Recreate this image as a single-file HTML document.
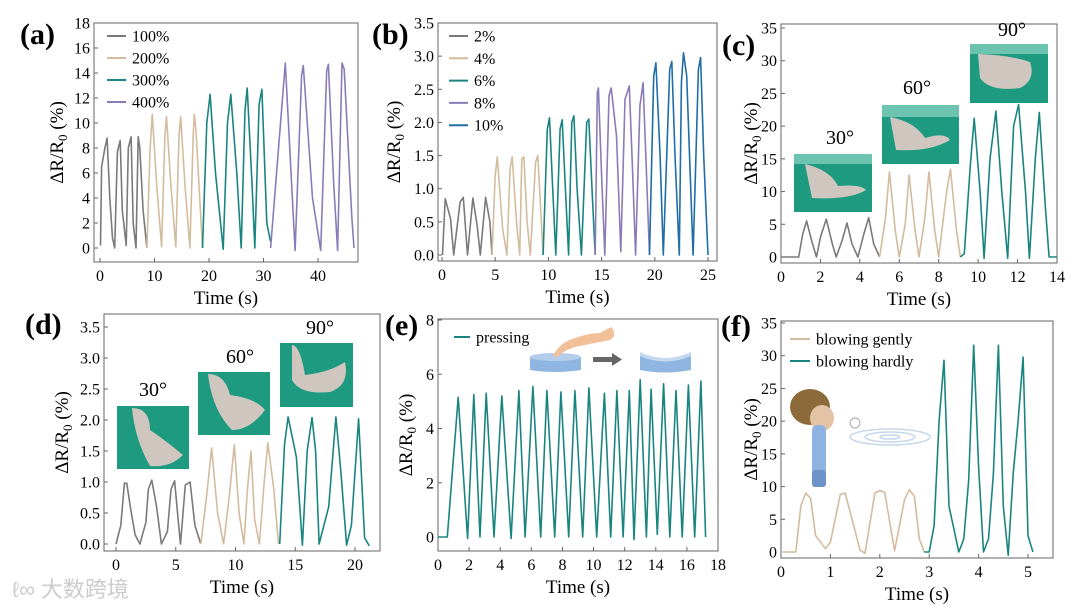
<!DOCTYPE html>
<html><head><meta charset="utf-8">
<style>
html,body{margin:0;padding:0;background:#fff;}
svg{display:block;font-family:"Liberation Serif",serif;}
</style></head>
<body>
<svg id="fig" width="1080" height="609" viewBox="0 0 1080 609" xmlns="http://www.w3.org/2000/svg">
<g id="decor">
  <g><rect x="794" y="154" width="78" height="58" fill="#1e9a80"/><rect x="794" y="154" width="78" height="10" fill="#6cc4b0"/><path d="M805 164 Q830 170 838 186 Q860 184 866 190 Q850 200 812 198 Z" fill="#cfc6bf"/></g>
  <g><rect x="882" y="105" width="77" height="59" fill="#1e9a80"/><rect x="882" y="105" width="77" height="12" fill="#6cc4b0"/><path d="M890 117 Q915 122 925 138 Q945 132 950 140 Q930 152 896 150 Z" fill="#cfc6bf"/></g>
  <g><rect x="970" y="44" width="78" height="59" fill="#1e9a80"/><rect x="970" y="44" width="78" height="10" fill="#6cc4b0"/><path d="M978 54 Q1010 55 1030 62 Q1036 80 1020 88 Q990 92 980 78 Z" fill="#cfc6bf"/></g>
  <text x="840" y="144" font-size="20" text-anchor="middle">30°</text>
  <text x="917" y="94" font-size="20" text-anchor="middle">60°</text>
  <text x="1012" y="36" font-size="20" text-anchor="middle">90°</text>
  <g><rect x="117" y="406" width="72" height="63" fill="#1e9a80"/><path d="M132 408 Q150 408 150 430 Q165 440 183 455 Q170 468 150 466 Q135 440 132 408Z" fill="#cfc6bf"/></g>
  <g><rect x="198" y="372" width="72" height="63" fill="#1e9a80"/><path d="M208 374 Q225 374 230 395 Q255 398 265 410 Q250 430 232 430 Q212 410 208 374Z" fill="#cfc6bf"/></g>
  <g><rect x="280" y="343" width="73" height="64" fill="#1e9a80"/><path d="M292 345 Q300 345 305 375 Q330 372 345 362 Q350 385 330 392 Q300 395 292 380Z" fill="#cfc6bf"/></g>
  <text x="153" y="396" font-size="20" text-anchor="middle">30°</text>
  <text x="240" y="363" font-size="20" text-anchor="middle">60°</text>
  <text x="320" y="334" font-size="20" text-anchor="middle">90°</text>
  <g>
    <path d="M530 357 L581 357 L581 370 Q555 374 530 370 Z" fill="#8fb6e0"/>
    <ellipse cx="555.5" cy="357" rx="25.5" ry="4" fill="#b3cdea"/>
    <path d="M553 356 Q560 342 575 338 Q590 333 600 333 L611 327 Q618 335 610 340 L585 345 Q565 348 558 357 Z" fill="#f1bf98"/>
    <rect x="593" y="357" width="20" height="5" fill="#666"/><path d="M612 353 L622 359.5 L612 366Z" fill="#666"/>
    <path d="M640 355 Q665 366 691 355 L691 370 Q665 375 640 370 Z" fill="#8fb6e0"/>
    <path d="M640 352 Q665 364 691 352 L691 356 Q665 367 640 356 Z" fill="#c5d9ef"/>
  </g>
  <g>
    <ellipse cx="810" cy="407" rx="20" ry="18" fill="#8c6a3a"/>
    <ellipse cx="822" cy="418" rx="12" ry="13" fill="#e3c3a6"/>
    <rect x="812" y="425" width="14" height="57" rx="5" fill="#8fb3e0"/>
    <rect x="812" y="470" width="14" height="17" rx="3" fill="#6d93c8"/>
    <circle cx="855" cy="423" r="5" fill="none" stroke="#aaa" stroke-width="1"/>
    <ellipse cx="890" cy="437" rx="40" ry="8" fill="none" stroke="#c7d8ea" stroke-width="1.5"/>
    <ellipse cx="890" cy="437" rx="25" ry="5" fill="none" stroke="#c7d8ea" stroke-width="1.5"/>
    <ellipse cx="890" cy="437" rx="10" ry="2" fill="none" stroke="#c7d8ea" stroke-width="1.5"/>
  </g>
  <text x="12" y="597" font-size="22" fill="#ccc" font-family="'Liberation Sans','Noto Sans CJK SC',sans-serif">ℓ∞ 大数跨境</text>
</g>
</svg>
<script>
// ---------- data ----------
const aT100=[0.1,0.3,0.9,1.3,1.8,2.3,2.7,3.2,3.7,4.1,4.8,5.2,5.7,6.1,6.6,7.0,7.3,7.9,8.6];
const aV100=[0.2,6.5,8,8.8,4,0.8,0,7.7,8.6,3,0.2,8,8.9,2,0,8.9,8,3,0];
const aT200=[8.6,9.2,9.6,10.4,11.3,11.9,12.2,13.0,13.9,14.5,14.8,15.6,16.5,17.1,17.3,17.6,18.8];
const aV200=[0,8,10.7,5,0.1,9,10.5,5,0.1,9,10.5,5,0,9,10.7,9.5,0];
const aT300=[18.8,19.6,20.2,21.2,22.6,23.4,24.0,25.1,25.9,26.6,27.0,27.9,28.4,29.2,29.7,30.6,31.3];
const aV300=[0,10,12.3,6,-0.1,10,12.3,6,0,11,12.8,5,0,11.5,12.7,2,0.5];
const aT400=[31.3,34.0,35.8,37.0,37.3,39.0,40.5,41.6,41.9,42.9,43.6,44.4,44.8,46.2,46.6];
const aV400=[0,14.8,-0.2,13.8,14.6,4,-0.2,14.2,14.7,5,-0.2,14.8,14.3,2.5,0];

const bT2=[0.05,0.3,0.8,1.1,1.7,2.0,2.4,2.9,3.3,3.6,4.1,4.5,4.7];
const bV2=[0,0.85,0.55,0,0.8,0.87,0,0.86,0.45,0,0.87,0.5,0];
const bT4=[4.7,5.0,5.2,5.7,6.1,6.4,6.6,7.0,7.3,7.5,7.7,8.0,8.3,8.8,9.0,9.3,9.5];
const bV4=[0,1.2,1.48,0.4,0,1.3,1.48,0.5,0,1.45,1.48,0.5,0,1.4,1.5,0.6,0];
const bT6=[9.5,9.9,10.1,10.4,10.7,11.1,11.3,11.6,11.9,12.2,12.4,12.7,13.1,13.6,13.8,14.1,14.4];
const bV6=[0,1.9,2.07,1.0,0,1.9,2.04,1.0,0,2.0,2.1,1.0,0,2.0,2.05,1.0,0];
const bT8=[14.4,14.6,14.7,15.0,15.3,15.7,15.9,16.4,16.8,17.2,17.6,17.9,18.2,18.6,18.9,19.2,19.5];
const bV8=[0,2.45,2.52,1.2,0,2.4,2.52,1.8,0.05,2.35,2.55,1.3,0,2.25,2.6,1.3,0];
const bT10=[19.5,19.9,20.1,20.5,20.8,21.4,21.6,21.9,22.3,22.5,22.7,23.0,23.6,24.1,24.3,24.6,25.0];
const bV10=[0,2.7,2.9,1.5,0,2.8,2.92,1.5,0,2.6,3.05,2.7,0,2.8,2.98,1.5,0];

const cT30=[0,0.9,1.1,1.3,1.6,1.8,2.0,2.3,2.6,2.8,3.1,3.35,3.6,3.9,4.2,4.45,4.7,5.0];
const cV30=[0,0,3.5,5.5,2,0,3,5.8,2,0,2.5,5.2,2,0,3.5,6.0,2,0];
const cT60=[5.0,5.3,5.5,5.8,6.0,6.3,6.5,6.8,7.0,7.3,7.5,7.8,8.0,8.4,8.6,8.9,9.1];
const cV60=[0,6,13,4,0,5,12.5,4,0,6,13,4,0,10,13.4,4,0];
const cT90=[9.1,9.3,9.6,9.8,10.1,10.3,10.6,10.9,11.2,11.5,11.8,12.05,12.4,12.6,12.9,13.1,13.4,13.6,14.0];
const cV90=[0,0.5,14,21.2,10,-0.2,15,22.3,10,-0.2,20,23.3,10,-0.2,15,22.1,8,0,0];

const dT30=[0,0.4,0.7,0.9,1.2,1.6,2.0,2.5,2.7,3.0,3.4,3.8,4.3,4.6,4.9,5.2,5.4,5.8,6.2,6.6,7.1];
const dV30=[0,0.3,0.98,0.98,0.6,0.15,0,0.35,0.88,1.03,0.6,0,0.2,0.88,1.02,0.4,0,0.95,1.0,0.3,0];
const dT60=[7.1,7.6,8.0,8.5,9.0,9.5,9.9,10.3,10.7,11.0,11.3,11.6,12.0,12.4,12.7,13.2,13.6];
const dV60=[0,0.8,1.55,0.5,0,0.8,1.6,0.5,0,0.9,1.5,0.4,0,1.0,1.63,0.9,0];
const dT90=[13.7,14.1,14.4,15.1,15.6,16.0,16.4,16.7,17.0,17.8,18.4,18.8,19.3,19.7,20.3,20.8,21.2];
const dV90=[0,1.6,2.05,1.4,-0.02,1.5,2.04,1.5,0,0.6,2.05,1.2,-0.02,0.3,2.02,0.1,-0.03];

const eValleyT=[0.6,1.9,2.7,3.6,4.7,5.6,6.6,7.5,8.4,9.3,10.2,11.1,11.9,12.6,13.4,14.1,14.9,15.7,16.5,17.2];
const eValleyV=[0,-0.05,0,0,-0.05,0,0,0,0,0,0,0,0,-0.1,0,0.1,0,0,0,0];
const ePeakT=[1.3,2.3,3.1,4.1,5.2,6.1,7.0,7.9,8.8,9.7,10.7,11.5,12.3,13.0,13.7,14.5,15.3,16.1,16.9];
const ePeakV=[5.15,5.25,5.3,5.2,5.4,5.55,5.4,5.35,5.4,5.5,5.3,5.4,5.4,5.8,5.45,5.65,5.4,5.6,5.75];

const fTg=[0,0.3,0.4,0.5,0.6,0.7,0.9,1.0,1.2,1.3,1.6,1.7,1.9,2.0,2.1,2.3,2.5,2.6,2.7,2.8,2.9];
const fVg=[0,0,7,9,8.2,2.5,0.5,1.5,8.8,9,0.3,-0.2,9,9.4,9.1,0.2,8,9.5,8.5,2,0];
const fTh=[2.9,3.0,3.1,3.2,3.3,3.4,3.6,3.7,3.8,3.9,4.0,4.1,4.2,4.3,4.4,4.5,4.6,4.7,4.8,4.9,5.0,5.1];
const fVh=[0,0,4,20,29.3,7,0,2,11,31.6,13,0,2,12,31.6,7,-0.5,12,20,29.8,2.5,0];

const aTicksX=[0,10,20,30,40], aTicksY=[0,2,4,6,8,10,12,14,16,18];
const bTicksX=[0,5,10,15,20,25], bTicksY=[0,0.5,1,1.5,2,2.5,3,3.5];
const cTicksX=[0,2,4,6,8,10,12,14], cTicksY=[0,5,10,15,20,25,30,35];
const dTicksX=[0,5,10,15,20], dTicksY=[0,0.5,1,1.5,2,2.5,3,3.5];
const eTicksX=[0,2,4,6,8,10,12,14,16,18], eTicksY=[0,2,4,6,8];
const fTicksX=[0,1,2,3,4,5], fTicksY=[0,5,10,15,20,25,30,35];

// ---------- drawing ----------
const NS='http://www.w3.org/2000/svg';
const svg=document.getElementById('fig');
const GRAY='#7a7a7a',TAN='#d3bc9e',TEAL='#1a8580',PURP='#8b7cb9',BLUE='#1f6ea8';
function mk(tag,attrs,parent){const e=document.createElementNS(NS,tag);for(const k in attrs)e.setAttribute(k,attrs[k]);(parent||svg).appendChild(e);return e;}
function fmt(v,dec){return dec?v.toFixed(1):String(v);}

function panel(p){
  const g=mk('g',{});
  
  
  svg.insertBefore(g,svg.firstChild);
  const sx=v=>p.x0+(v-p.d0)/(p.d1-p.d0)*(p.x1-p.x0);
  const sy=v=>p.y0-(v-p.r0)/(p.r1-p.r0)*(p.y0-p.y1);
  const fr=mk('rect',{x:p.L,y:p.T,width:p.R-p.L,height:p.B-p.T,fill:'none',stroke:'#666','stroke-width':1},g);
  
  
  p.tx.forEach(v=>{const X=sx(v);
    const t=mk('line',{x1:X,x2:X,y1:p.B,y2:p.B-4,stroke:'#666'},g);
    
    
    const l=mk('text',{x:X,y:p.B+19,'font-size':16,'text-anchor':'middle'},g);l.textContent=v;
    
    });
  p.ty.forEach(v=>{const Y=sy(v);
    const t=mk('line',{x1:p.L,x2:p.L+4,y1:Y,y2:Y,stroke:'#666'},g);
    
    
    const l=mk('text',{x:p.L-4,y:Y+5.5,'font-size':16,'text-anchor':'end'},g);l.textContent=fmt(v,p.dec);
    
    });
  const xt=mk('text',{x:(p.L+p.R)/2,y:p.B+42,'font-size':19,'text-anchor':'middle'},g);xt.textContent='Time (s)';
  
  
  const yt=mk('text',{x:0,y:0,'font-size':19,'text-anchor':'middle',transform:`translate(${p.yx},${(p.T+p.B)/2}) rotate(-90)`},g);
  yt.innerHTML='ΔR/R<tspan font-size="13" dy="4">0</tspan><tspan dy="-4"> (%)</tspan>';
  
  
  const pl=mk('text',{x:p.lx,y:p.ly,'font-size':30,'font-weight':'bold'},g);pl.textContent='('+p.id+')';
  
  
  p.series.forEach(s=>{
    const d=s.t.map((t,i)=>(i?'L':'M')+sx(t).toFixed(1)+' '+sy(s.v[i]).toFixed(1)).join(' ');
    const path=mk('path',{d:d,fill:'none',stroke:s.c,'stroke-width':1.6,'stroke-linejoin':'round'},g);
    
    
  });
  (p.legend||[]).forEach((s,i)=>{const Y=p.legY+i*p.legDy;
    const ln=mk('line',{x1:p.legX,x2:p.legX+p.legW,y1:Y,y2:Y,stroke:s.c,'stroke-width':2},g);
    
    
    const tx=mk('text',{x:p.legX+p.legW+6,y:Y+5.5,'font-size':16},g);tx.textContent=s.n;
    
    });
}
function inter(a,b){const r=[];for(let i=0;i<a.length;i++){r.push(a[i]);if(i<b.length)r.push(b[i]);}return r;}

const sA=[{n:'100%',t:aT100,v:aV100,c:GRAY},{n:'200%',t:aT200,v:aV200,c:TAN},{n:'300%',t:aT300,v:aV300,c:TEAL},{n:'400%',t:aT400,v:aV400,c:PURP}];
panel({id:'a',L:94,T:23,R:358,B:262,x0:100,x1:318,d0:0,d1:40,y0:248,y1:23,r0:0,r1:18,tx:aTicksX,ty:aTicksY,yx:63,lx:20,ly:44,series:sA,legend:sA,legX:107,legW:19,legY:36,legDy:22});
const sB=[{n:'2%',t:bT2,v:bV2,c:GRAY},{n:'4%',t:bT4,v:bV4,c:TAN},{n:'6%',t:bT6,v:bV6,c:TEAL},{n:'8%',t:bT8,v:bV8,c:PURP},{n:'10%',t:bT10,v:bV10,c:BLUE}];
panel({id:'b',L:438,T:23,R:717,B:261,x0:442,x1:708,d0:0,d1:25,y0:255,y1:23,r0:0,r1:3.5,dec:1,tx:bTicksX,ty:bTicksY,yx:400,lx:372,ly:44,series:sB,legend:sB,legX:449,legW:19,legY:36,legDy:22.3});
panel({id:'c',L:781,T:24,R:1057,B:263,x0:781,x1:1057,d0:0,d1:14,y0:257,y1:28,r0:0,r1:35,tx:cTicksX,ty:cTicksY,yx:757,lx:722,ly:55,series:[{n:'30deg',t:cT30,v:cV30,c:GRAY},{n:'60deg',t:cT60,v:cV60,c:TAN},{n:'90deg',t:cT90,v:cV90,c:TEAL}]});
panel({id:'d',L:104,T:314,R:380,B:551,x0:116,x1:355,d0:0,d1:20,y0:544,y1:327,r0:0,r1:3.5,dec:1,tx:dTicksX,ty:dTicksY,yx:68,lx:25,ly:334,series:[{n:'30deg',t:dT30,v:dV30,c:GRAY},{n:'60deg',t:dT60,v:dV60,c:TAN},{n:'90deg',t:dT90,v:dV90,c:TEAL}]});
const eT=[0].concat(inter(eValleyT,ePeakT)), eV=[0].concat(inter(eValleyV,ePeakV));
panel({id:'e',L:438,T:319,R:718,B:551,x0:438,x1:718,d0:0,d1:18,y0:537,y1:320,r0:0,r1:8,tx:eTicksX,ty:eTicksY,yx:412,lx:385,ly:335,series:[{n:'pressing',t:eT,v:eV,c:TEAL}],legend:[{n:'pressing',c:TEAL}],legX:454,legW:16,legY:337,legDy:22});
const sF=[{n:'blowing gently',t:fTg,v:fVg,c:TAN},{n:'blowing hardly',t:fTh,v:fVh,c:TEAL}];
panel({id:'f',L:781,T:321,R:1053,B:558,x0:781,x1:1028,d0:0,d1:5,y0:552,y1:323,r0:0,r1:35,tx:fTicksX,ty:fTicksY,yx:757,lx:721,ly:336,series:sF,legend:sF,legX:790,legW:20,legY:339,legDy:22});
</script>
</body></html>
